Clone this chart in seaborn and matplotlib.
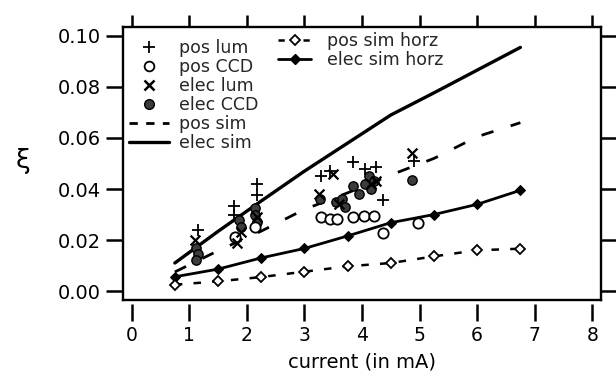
import matplotlib
matplotlib.use("Agg")
import matplotlib.pyplot as plt
from matplotlib.lines import Line2D
from matplotlib.ticker import FormatStrFormatter
import pandas as pd
import seaborn as sns

# ---------------- data ----------------
x_sim = [0.75, 1.5, 2.25, 3.0, 3.75, 4.5, 5.25, 6.0, 6.75]
elec_sim = [0.011, 0.0234, 0.0353, 0.047, 0.058, 0.069, 0.0777, 0.0866, 0.0955]
pos_sim = [0.0075, 0.0158, 0.0235, 0.032, 0.0385, 0.0455, 0.052, 0.0605, 0.066]
elec_sim_horz = [0.0056, 0.0086, 0.013, 0.0167, 0.0216, 0.0268, 0.030, 0.034, 0.0395]
pos_sim_horz = [0.0025, 0.0038, 0.0055, 0.0076, 0.0097, 0.011, 0.0136, 0.016, 0.0166]

pos_lum_x = [1.15, 1.78, 1.78, 2.17, 2.17, 3.28, 3.45, 3.85, 4.06, 4.24, 4.37, 4.9]
pos_lum_y = [0.024, 0.0335, 0.030, 0.042, 0.0375, 0.045, 0.047, 0.0506, 0.0477, 0.0488, 0.0358, 0.051]

pos_ccd_x = [1.8, 2.15, 3.28, 3.45, 3.56, 3.85, 4.03, 4.2, 4.37, 4.98]
pos_ccd_y = [0.021, 0.025, 0.0291, 0.0283, 0.0283, 0.0289, 0.0293, 0.0293, 0.0229, 0.0266]

elec_lum_x = [1.1, 1.9, 1.83, 2.18, 3.25, 3.5, 3.6, 4.25, 4.15, 4.86]
elec_lum_y = [0.020, 0.023, 0.019, 0.029, 0.038, 0.046, 0.034, 0.043, 0.042, 0.054]

elec_ccd_x = [1.12, 1.15, 1.12, 1.87, 1.9, 2.15, 2.15, 2.17, 3.27, 3.55, 3.65, 3.7,
              3.85, 3.95, 4.05, 4.12, 4.2, 4.15, 4.86]
elec_ccd_y = [0.017, 0.0145, 0.012, 0.028, 0.025, 0.0325, 0.030, 0.027, 0.036, 0.035, 0.036, 0.033,
              0.041, 0.038, 0.042, 0.045, 0.043, 0.040, 0.0435]

x_ticks = [0, 1, 2, 3, 4, 5, 6, 7, 8]
y_ticks = [0.00, 0.02, 0.04, 0.06, 0.08, 0.10]

sim = pd.DataFrame({"x": x_sim, "elec_sim": elec_sim, "pos_sim": pos_sim,
                    "elec_horz": elec_sim_horz, "pos_horz": pos_sim_horz})

# ---------------- figure ----------------
sns.set_theme(style="white")
plt.rcParams["font.family"] = ["DejaVu Sans"]

fig = plt.figure(figsize=(6.16, 3.87), dpi=100)
ax = fig.add_axes([123 / 616, 1 - 300 / 387, 478 / 616, 273 / 387])

# simulation lines
sns.lineplot(data=sim, x="x", y="elec_sim", ax=ax, color="black", lw=2.4,
             estimator=None, sort=False)
sns.lineplot(data=sim, x="x", y="pos_sim", ax=ax, color="black", lw=2.0,
             linestyle=(0, (4.5, 6.5)), estimator=None, sort=False)
sns.lineplot(data=sim, x="x", y="elec_horz", ax=ax, color="black", lw=2.0,
             marker="D", markersize=5, markerfacecolor="black", markeredgecolor="black",
             estimator=None, sort=False)
sns.lineplot(data=sim, x="x", y="pos_horz", ax=ax, color="black", lw=1.8,
             linestyle=(0, (3, 4.5)), marker="D", markersize=5,
             markerfacecolor="white", markeredgecolor="black", markeredgewidth=1.3,
             estimator=None, sort=False)

# measurements
sns.scatterplot(x=elec_ccd_x, y=elec_ccd_y, ax=ax, marker="o", s=45,
                color="#3c3c3c", edgecolor="black", linewidth=1.0, zorder=3)
sns.scatterplot(x=pos_ccd_x, y=pos_ccd_y, ax=ax, marker="o", s=55,
                facecolor="white", edgecolor="black", linewidth=1.3, zorder=3)
sns.scatterplot(x=elec_lum_x, y=elec_lum_y, ax=ax, marker="x", s=50,
                color="black", linewidth=1.6, zorder=4)
sns.scatterplot(x=pos_lum_x, y=pos_lum_y, ax=ax, marker="+", s=75,
                color="black", linewidth=1.3, zorder=4)

# axes
ax.set_xlim(-0.15, 8.15)
ax.set_ylim(-0.0035, 0.1035)
ax.set_xticks(x_ticks)
ax.set_yticks(y_ticks)
ax.yaxis.set_major_formatter(FormatStrFormatter("%.2f"))
for sp in ax.spines.values():
    sp.set_visible(True)
    sp.set_color("black")
    sp.set_linewidth(1.7)

ax.tick_params(axis="y", left=True, right=True, direction="out", length=12,
               width=1.8, color="black", labelsize=14, pad=4, labelcolor="black")
ax.tick_params(axis="x", top=True, bottom=False, labelbottom=False,
               direction="out", length=9, width=1.8, color="black")

sec = ax.secondary_xaxis(-0.015)
sec.set_xticks(x_ticks)
sec.spines["bottom"].set_visible(False)
sec.tick_params(direction="out", length=12, width=1.8, color="black",
                labelsize=13.5, pad=4, labelcolor="black")
sec.set_xlabel("current (in mA)", fontsize=14, labelpad=5, color="black")

ax.set_xlabel("")
ax.set_ylabel("ξ", rotation=0, fontsize=19, color="black", ha="center", va="center")
ax.yaxis.set_label_coords(-0.21, 0.51)

# legends
h1 = [
    Line2D([], [], ls="none", marker="+", ms=9, mew=1.3, color="black"),
    Line2D([], [], ls="none", marker="o", ms=7, mew=1.3, mfc="white", mec="black"),
    Line2D([], [], ls="none", marker="x", ms=7.5, mew=1.8, color="black"),
    Line2D([], [], ls="none", marker="o", ms=7, mew=1.0, mfc="#3c3c3c", mec="black"),
    Line2D([], [], color="black", lw=2.0, ls=(0, (3.0, 3.0))),
    Line2D([], [], color="black", lw=2.4),
]
l1 = ["pos lum", "pos CCD", "elec lum", "elec CCD", "pos sim", "elec sim"]
leg1 = ax.legend(h1, l1, loc="upper left", bbox_to_anchor=(0.012, 0.955),
                 frameon=False, fontsize=12.5, labelspacing=0.05,
                 handlelength=2.3, handletextpad=0.6, borderpad=0, borderaxespad=0)
ax.add_artist(leg1)

h2 = [
    Line2D([], [], color="black", lw=1.8, ls=(0, (2.5, 2.5)), marker="D", ms=5,
           mfc="white", mec="black", mew=1.3),
    Line2D([], [], color="black", lw=2.0, marker="D", ms=5, mfc="black", mec="black"),
]
l2 = ["pos sim horz", "elec sim horz"]
ax.legend(h2, l2, loc="upper left", bbox_to_anchor=(0.325, 0.98),
          frameon=False, fontsize=12.5, labelspacing=0.05,
          handlelength=1.9, handletextpad=0.9, borderpad=0, borderaxespad=0)

fig.savefig("out.png", dpi=100, facecolor="white")
